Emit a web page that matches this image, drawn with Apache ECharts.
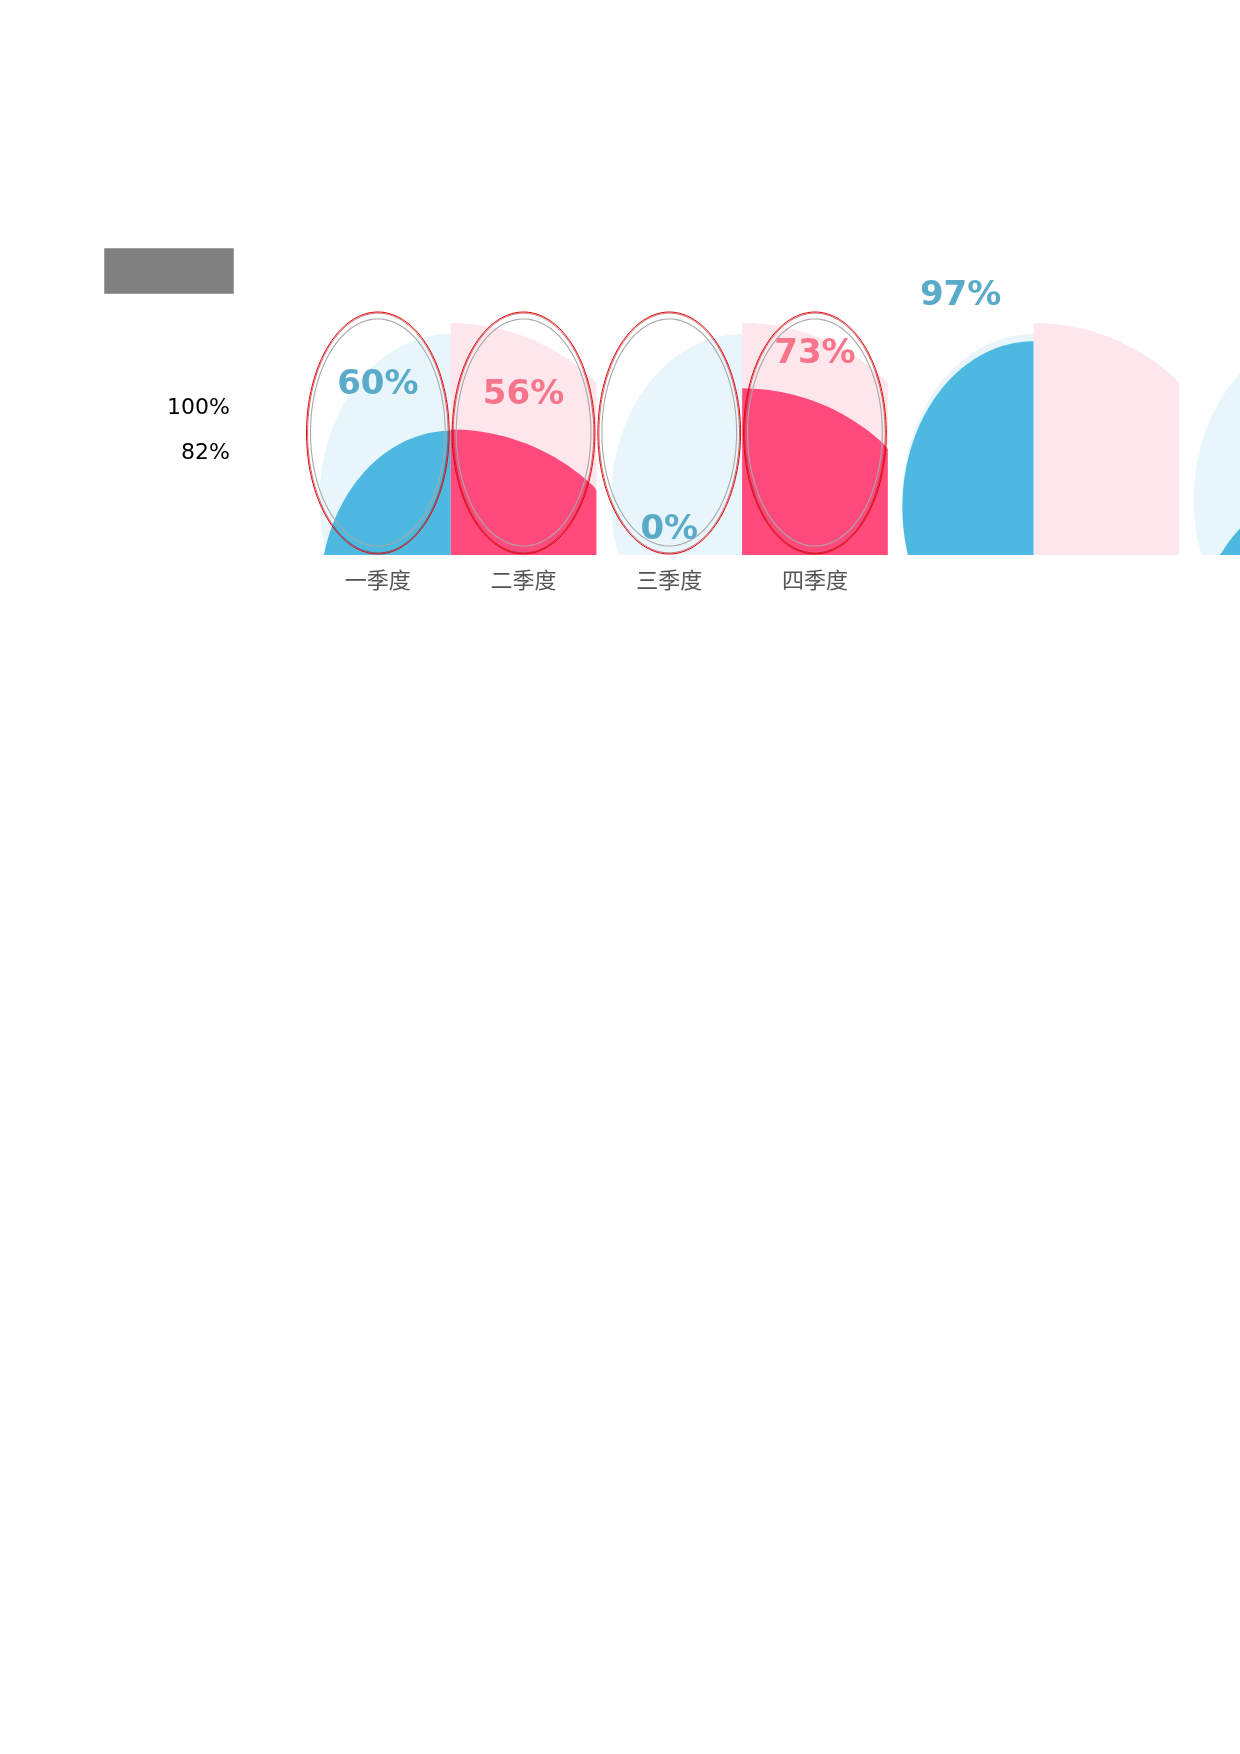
<!DOCTYPE html>
<html>
<head>
<meta charset="utf-8">
<script src="https://cdn.jsdelivr.net/npm/echarts@6/dist/echarts.min.js"></script>
<style>
  html, body { margin: 0; padding: 0; background: #ffffff; }
  #chart { width: 1240px; height: 1754px; }
</style>
</head>
<body>
<div id="chart"></div>
<script>
// ---- data ----
var categories = ['一季度', '二季度', '三季度', '四季度'];
var values = [60, 56, 0, 73, 97, 0, 36];
var showLabel = [true, true, true, true, true, false, false];
var backgroundValues = [100, 100, 100, 100, 100, 100, 100];
var sideTexts = ['100%', '82%'];

// ---- styling ----
var BLUE = '#4db9e0', BLUE_LIGHT = '#e8f5fb';
var PINK = '#ff4a7b', PINK_LIGHT = '#fde6ec';
var BLUE_TEXT = '#5aaac9', PINK_TEXT = '#f7748a';

var xData = values.map(function (v, i) { return i < categories.length ? categories[i] : ''; });

function shapePoints(idx, v, api) {
  var base = api.coord([idx, 0]);
  var bw = api.size([1, 0])[0];
  var k = api.size([0, 1])[1];
  var left = base[0] - bw / 2, right = base[0] + bw / 2;
  var baseY = base[1];
  var yv = baseY - v * k;
  var isBlue = idx % 2 === 0;
  var cx, a, b, top;
  if (isBlue) {
    cx = right; a = bw * 0.9; b = 166; top = yv + 21;
  } else {
    cx = left; a = 208; b = 208; top = yv + 10;
  }
  if (top >= baseY) return null;
  var cy = top + b;
  var pts = [];
  var N = 240;
  for (var j = 0; j < N; j++) {
    var t = j / N * Math.PI * 2;
    var x = cx + a * Math.cos(t);
    var y = cy + b * Math.sin(t);
    x = Math.max(left, Math.min(right, x));
    y = Math.min(baseY, y);
    pts.push([x, y]);
  }
  return { pts: pts, isBlue: isBlue };
}

function renderFill(light) {
  return function (params, api) {
    var idx = api.value(0), v = api.value(1);
    var s = shapePoints(idx, v, api);
    if (!s) return null;
    var color = s.isBlue ? (light ? BLUE_LIGHT : BLUE) : (light ? PINK_LIGHT : PINK);
    return { type: 'polygon', shape: { points: s.pts }, style: { fill: color } };
  };
}

function ellipsePts(cx, cy, rx, ry) {
  var pts = [];
  for (var j = 0; j < 180; j++) {
    var t = j / 180 * Math.PI * 2;
    pts.push([cx + rx * Math.cos(t), cy + ry * Math.sin(t)]);
  }
  return pts;
}

function renderOutline(params, api) {
  var idx = api.value(0);
  var bottom = api.coord([idx, 0]);
  var topP = api.coord([idx, 100]);
  var bw = api.size([1, 0])[0];
  var cx = bottom[0];
  var cy = (bottom[1] + topP[1]) / 2 - 1;
  var ry = (bottom[1] - topP[1]) / 2;
  var rx = bw / 2 - 1.5;
  return {
    type: 'group',
    children: [
      { type: 'polygon', shape: { points: ellipsePts(cx, cy, rx, ry) },
        style: { fill: 'none', stroke: '#f00000', lineWidth: 1 } },
      { type: 'polygon', shape: { points: ellipsePts(cx, cy, rx - 1.1, ry - 1.1) },
        style: { fill: 'none', stroke: '#a01020', lineWidth: 0.6 } },
      { type: 'polygon', shape: { points: ellipsePts(cx, cy - 0.5, rx - 4, ry - 7.5) },
        style: { fill: 'none', stroke: '#a8a8a8', lineWidth: 1.1 } }
    ]
  };
}

function renderLabel(params, api) {
  var idx = api.value(0), v = api.value(1);
  if (!showLabel[idx]) return null;
  var p = api.coord([idx, v]);
  var isBlue = idx % 2 === 0;
  return {
    type: 'text',
    style: {
      text: v + '%',
      x: p[0], y: p[1] - 24.5,
      align: 'center', verticalAlign: 'middle',
      fontFamily: 'DejaVu Sans', fontWeight: 'bold', fontSize: 34,
      fill: isBlue ? BLUE_TEXT : PINK_TEXT
    }
  };
}

var chart = echarts.init(document.getElementById('chart'), null, { renderer: 'canvas' });
var option = {
  animation: false,
  backgroundColor: '#ffffff',
  grid: { left: 305, top: 313, width: 145.7 * values.length, height: 242,
          containLabel: false, outerBoundsMode: 'none' },
  xAxis: {
    type: 'category',
    data: xData,
    axisLine: { show: false },
    axisTick: { show: false },
    splitLine: { show: false },
    axisLabel: { color: '#555555', fontSize: 22, margin: 14, fontFamily: 'Noto Sans CJK SC' }
  },
  yAxis: { type: 'value', min: 0, max: 100, show: false },
  graphic: [
    { type: 'rect', left: 104, top: 248, shape: { width: 129, height: 45 },
      style: { fill: '#808080', stroke: '#a0a0a0', lineWidth: 1 } },
    { type: 'text', right: 1240 - 230, top: 397,
      style: { text: sideTexts[0], font: '22px DejaVu Sans', fill: '#000' } },
    { type: 'text', right: 1240 - 230, top: 442,
      style: { text: sideTexts[1], font: '22px DejaVu Sans', fill: '#000' } }
  ],
  series: [
    { type: 'custom', z: 2, clip: false, renderItem: renderFill(true),
      data: backgroundValues.map(function (v, i) { return [i, v]; }) },
    { type: 'custom', z: 3, clip: false, renderItem: renderFill(false),
      data: values.map(function (v, i) { return [i, v]; }) },
    { type: 'custom', z: 4, clip: false, renderItem: renderOutline,
      data: categories.map(function (c, i) { return [i, 100]; }) },
    { type: 'custom', z: 5, clip: false, renderItem: renderLabel,
      data: values.map(function (v, i) { return [i, v]; }) }
  ]
};
chart.setOption(option);
</script>
</body>
</html>
